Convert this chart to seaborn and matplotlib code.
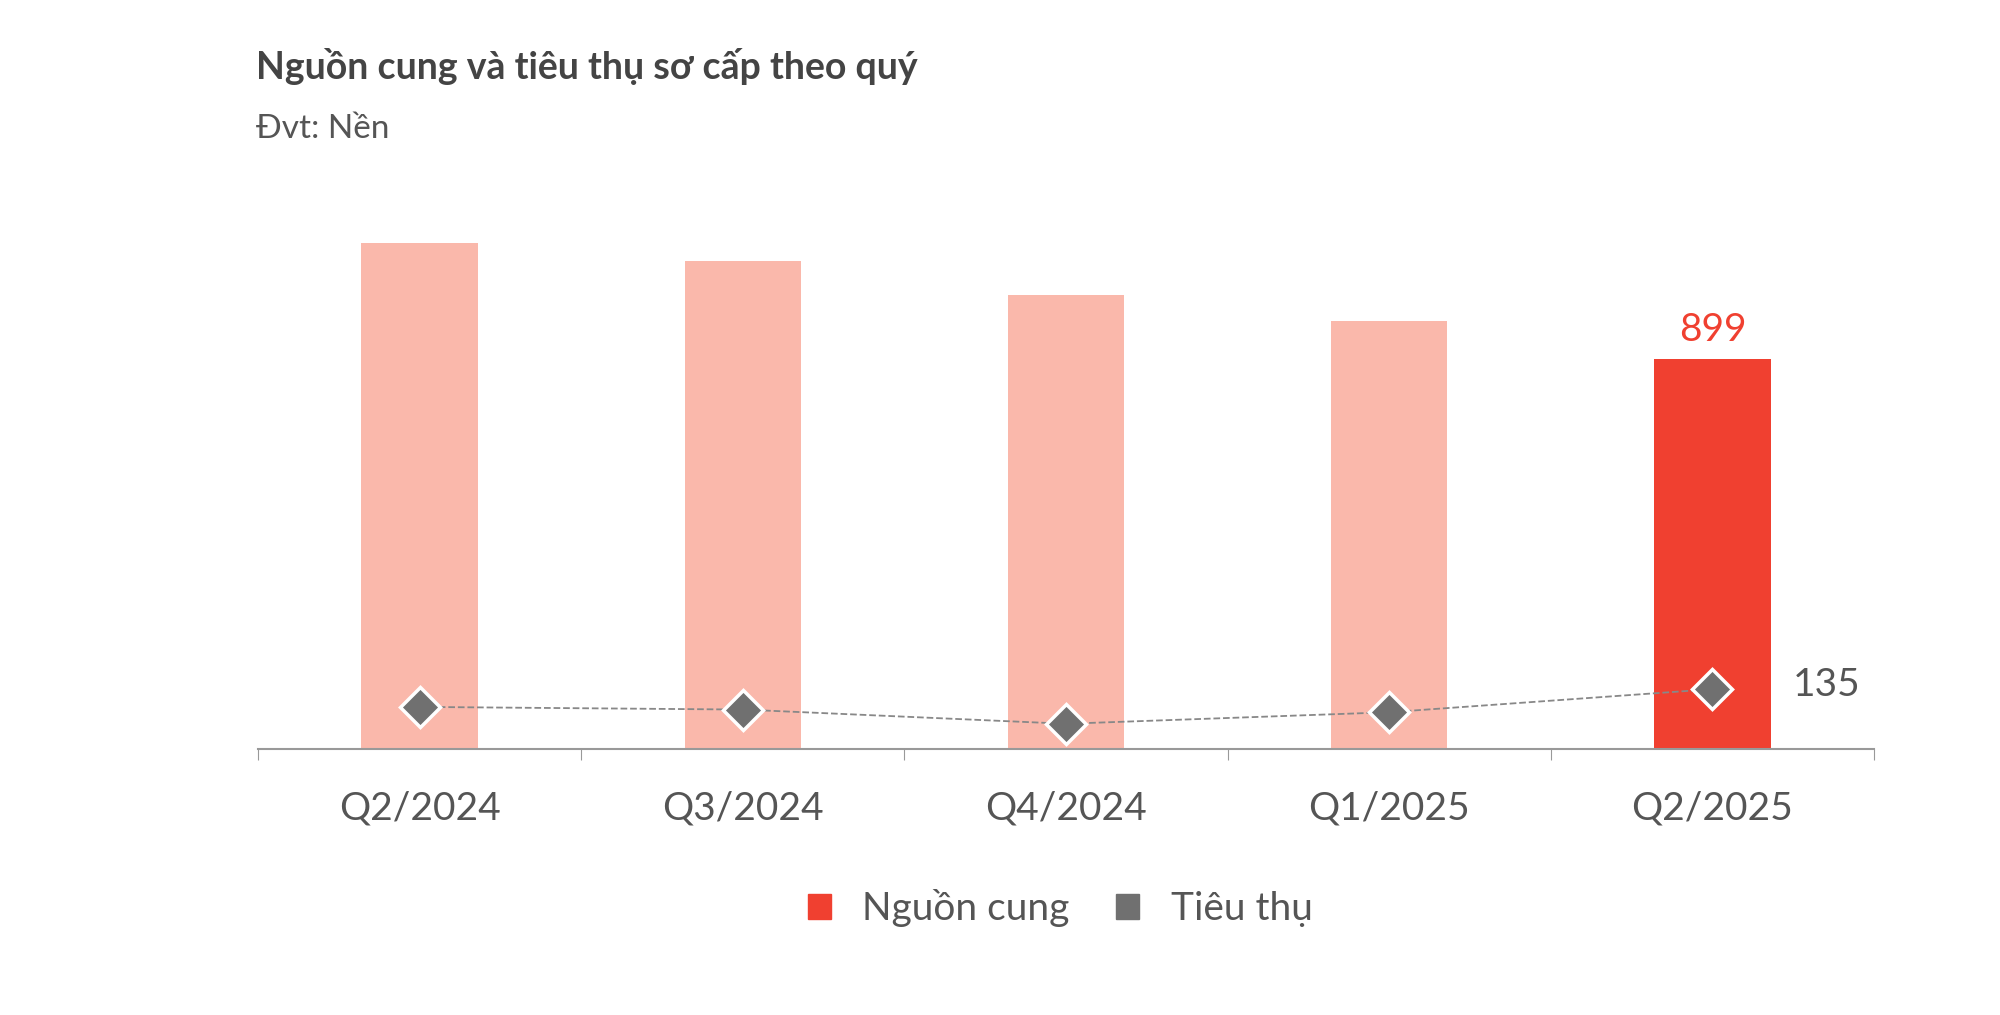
import matplotlib
matplotlib.use("Agg")
import matplotlib.pyplot as plt
import seaborn as sns
import pandas as pd
from matplotlib.patches import Patch

quarters = ["Q2/2024", "Q3/2024", "Q4/2024", "Q1/2025", "Q2/2025"]
supply = [1166, 1125, 1046, 987, 899]
sales = [95, 89, 57, 83, 135]

plt.rcParams["font.family"] = "Lato"
df = pd.DataFrame({"q": quarters, "supply": supply, "sales": sales})

fig = plt.figure(figsize=(20, 10.15), dpi=100)
ax = fig.add_axes([0.129, 0.262, 0.808, 0.516])
colors = ["#fab8ab"] * 4 + ["#f04030"]
sns.barplot(data=df, x="q", y="supply", hue="q", palette=colors, legend=False,
            width=0.36, ax=ax, saturation=1)
ax.set_ylim(0, 1207)
ax.set_xlim(-0.5, 4.5)
ax.text(4, supply[-1] + 25, str(supply[-1]), ha="center", va="bottom",
        fontsize=28, color="#f04030")

ax2 = ax.twinx()
sns.lineplot(x=list(range(5)), y=sales, ax=ax2, color="#888888", linestyle="--",
             linewidth=1.3, marker="D", markersize=20, markerfacecolor="#707070",
             markeredgecolor="white", markeredgewidth=2.5)
ax2.set_ylim(0, 1180)
ax2.text(4.25, sales[-1] + 10, str(sales[-1]), ha="left", va="center",
         fontsize=28, color="#555555")

for a in (ax, ax2):
    a.set_yticks([])
    a.set_ylabel("")
    a.set_xlabel("")
    for s in ["top", "right", "left"]:
        a.spines[s].set_visible(False)
ax2.spines["bottom"].set_visible(False)
ax.spines["bottom"].set_color("#999999")
ax.spines["bottom"].set_linewidth(1.5)
ax.set_xticks([-0.5, 0.5, 1.5, 2.5, 3.5, 4.5], minor=False)
ax.set_xticklabels([])
ax.tick_params(axis="x", length=8, color="#999999")
for i, q in enumerate(quarters):
    ax.text(i, -0.08, q, transform=ax.get_xaxis_transform(), ha="center",
            va="top", fontsize=28, color="#555555")

fig.text(0.128, 0.934, "Nguồn cung và tiêu thụ sơ cấp theo quý", fontsize=27,
         fontweight="bold", color="#444444", va="center")
fig.text(0.128, 0.873, "Đvt: Nền", fontsize=24, color="#555555", va="center")

handles = [Patch(color="#f04030"), Patch(color="#707070")]
fig.legend(handles, ["Nguồn cung", "Tiêu thụ"], loc="center", bbox_to_anchor=(0.53, 0.105),
           ncol=2, frameon=False, fontsize=28, handlelength=0.6, handleheight=0.6,
           columnspacing=1.2, handletextpad=0.8, labelcolor="#555555")

fig.savefig("out.png", dpi=100, facecolor="white")
